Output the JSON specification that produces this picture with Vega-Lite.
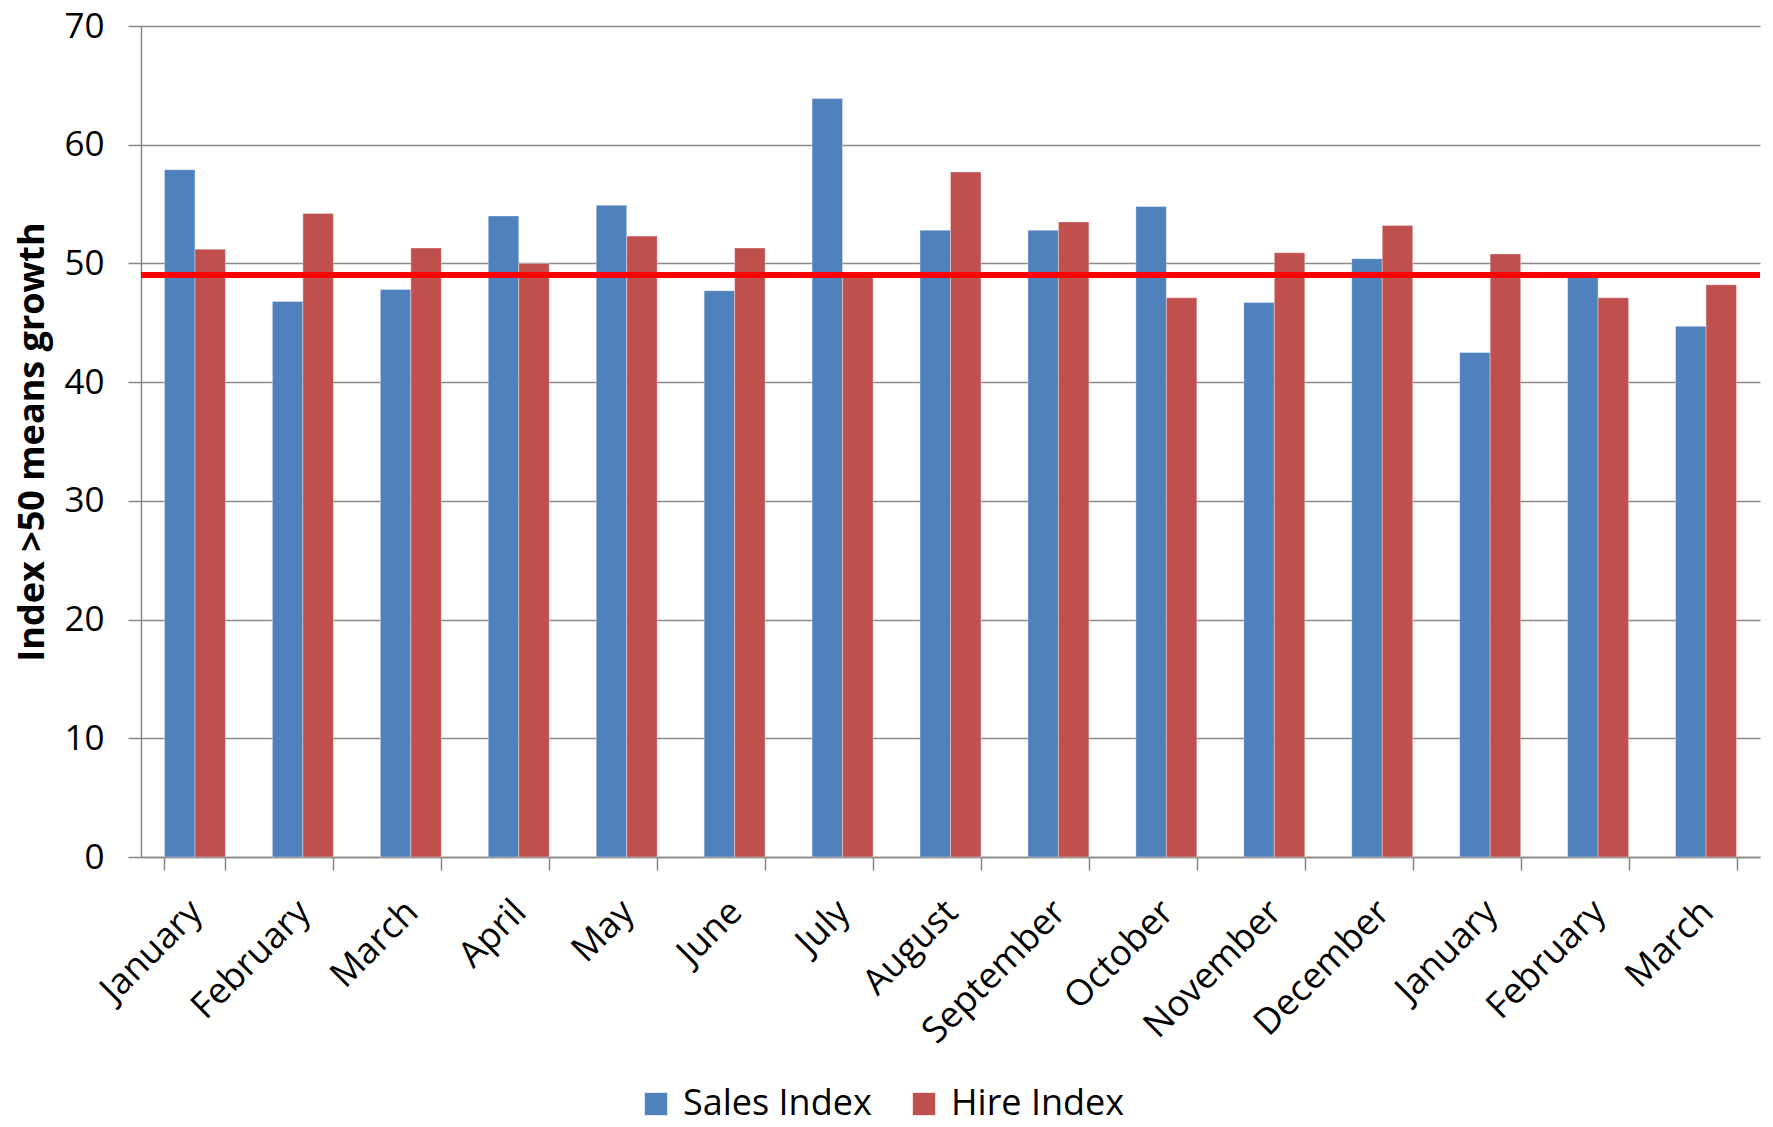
{
  "$schema": "https://vega.github.io/schema/vega-lite/v6.json",
  "width": 1619,
  "height": 831,
  "autosize": {"type": "none"},
  "padding": {"left": 141, "top": 26, "right": 13, "bottom": 270},
  "background": "white",
  "config": {"view": {"stroke": null}, "font": "Open Sans"},
  "data": {
    "values": [
      {"period": "January|1", "series": "Sales Index", "value": 57.9},
      {"period": "January|1", "series": "Hire Index", "value": 51.2},
      {"period": "February|1", "series": "Sales Index", "value": 46.8},
      {"period": "February|1", "series": "Hire Index", "value": 54.2},
      {"period": "March|1", "series": "Sales Index", "value": 47.8},
      {"period": "March|1", "series": "Hire Index", "value": 51.3},
      {"period": "April|1", "series": "Sales Index", "value": 54.0},
      {"period": "April|1", "series": "Hire Index", "value": 50.0},
      {"period": "May|1", "series": "Sales Index", "value": 54.9},
      {"period": "May|1", "series": "Hire Index", "value": 52.3},
      {"period": "June|1", "series": "Sales Index", "value": 47.7},
      {"period": "June|1", "series": "Hire Index", "value": 51.3},
      {"period": "July|1", "series": "Sales Index", "value": 63.9},
      {"period": "July|1", "series": "Hire Index", "value": 49.2},
      {"period": "August|1", "series": "Sales Index", "value": 52.8},
      {"period": "August|1", "series": "Hire Index", "value": 57.7},
      {"period": "September|1", "series": "Sales Index", "value": 52.8},
      {"period": "September|1", "series": "Hire Index", "value": 53.5},
      {"period": "October|1", "series": "Sales Index", "value": 54.8},
      {"period": "October|1", "series": "Hire Index", "value": 47.1},
      {"period": "November|1", "series": "Sales Index", "value": 46.7},
      {"period": "November|1", "series": "Hire Index", "value": 50.9},
      {"period": "December|1", "series": "Sales Index", "value": 50.4},
      {"period": "December|1", "series": "Hire Index", "value": 53.2},
      {"period": "January|2", "series": "Sales Index", "value": 42.5},
      {"period": "January|2", "series": "Hire Index", "value": 50.8},
      {"period": "February|2", "series": "Sales Index", "value": 49.1},
      {"period": "February|2", "series": "Hire Index", "value": 47.1},
      {"period": "March|2", "series": "Sales Index", "value": 44.7},
      {"period": "March|2", "series": "Hire Index", "value": 48.2}
    ]
  },
  "layer": [
    {
      "mark": {"type": "bar", "stroke": "#ffffff", "strokeOpacity": 0.35, "strokeWidth": 1},
      "encoding": {
        "x": {
          "field": "period",
          "type": "nominal",
          "sort": null,
          "scale": {"paddingInner": 0.435, "paddingOuter": 0.2175},
          "axis": {
            "title": null,
            "labelAngle": -45,
            "labelExpr": "split(datum.label, '|')[0]",
            "labelLimit": 400,
            "tickBand": "extent",
            "tickSize": 13,
            "tickWidth": 1.5,
            "tickColor": "#878787",
            "domainColor": "#878787",
            "domainWidth": 1.5,
            "labelFontSize": 36,
            "labelColor": "black",
            "labelPadding": 24,
            "labelOffset": -11,
            "grid": false
          }
        },
        "xOffset": {"field": "series", "sort": ["Sales Index", "Hire Index"]},
        "y": {
          "field": "value",
          "type": "quantitative",
          "scale": {"domain": [0, 70], "nice": false},
          "axis": {
            "values": [0, 10, 20, 30, 40, 50, 60, 70],
            "title": "Index >50 means growth",
            "titleFontSize": 36,
            "titleFontWeight": "bold",
            "titleColor": "black",
            "titlePadding": 12,
            "labelFontSize": 35,
            "labelColor": "black",
            "labelPadding": 24,
            "tickSize": 13,
            "tickWidth": 1.5,
            "tickColor": "#878787",
            "domainColor": "#878787",
            "domainWidth": 1.5,
            "grid": true,
            "gridColor": "#8a8a8a",
            "gridWidth": 1.5
          }
        },
        "color": {
          "field": "series",
          "type": "nominal",
          "scale": {"domain": ["Sales Index", "Hire Index"], "range": ["#4F81BD", "#C0504D"]},
          "legend": {
            "title": null,
            "orient": "none",
            "legendX": 497,
            "legendY": 1060,
            "direction": "horizontal",
            "symbolType": "square",
            "symbolSize": 500,
            "symbolStrokeWidth": 0,
            "labelFontSize": 36,
            "labelColor": "black",
            "labelOffset": 9,
            "columnPadding": 34,
            "labelLimit": 400
          }
        }
      }
    },
    {
      "mark": {"type": "rule", "color": "#FF0000", "strokeWidth": 5},
      "encoding": {"y": {"datum": 49}}
    }
  ]
}
